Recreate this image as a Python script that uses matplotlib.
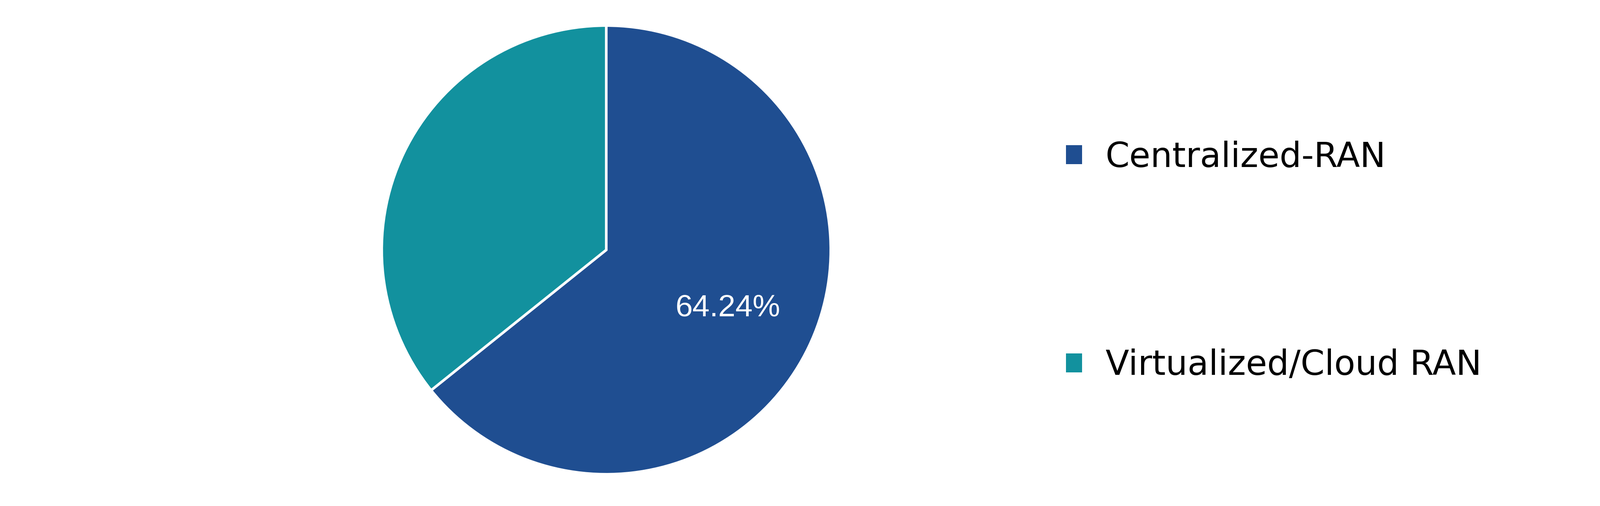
import matplotlib
matplotlib.use("Agg")
import matplotlib.pyplot as plt

# data
labels = ["Centralized-RAN", "Virtualized/Cloud RAN"]
shares = [64.24, 35.76]
colors = ["#1F4E91", "#12919E"]

W, H = 3877, 1227
fig = plt.figure(figsize=(W / 100, H / 100), dpi=100)

# pie axes: center ~(1469, 606) px, radius ~544 px
r = 544
cx, cy = 1469, 606
ax = fig.add_axes([(cx - r) / W, (H - cy - r) / H, 2 * r / W, 2 * r / H])

def pct(p):
    # only the big slice is labelled in the original
    return "%.2f%%" % p if p > 50 else ""

wedges, texts, autotexts = ax.pie(
    shares, colors=colors, startangle=90, counterclock=False,
    autopct=pct, pctdistance=0.6,
    wedgeprops=dict(edgecolor="white", linewidth=4.5),
    textprops=dict(color="white", fontsize=54, family="Liberation Sans"),
)
ax.set_xlim(-1, 1)
ax.set_ylim(-1, 1)
ax.set_aspect("equal")

leg = fig.legend(
    wedges, labels, loc="upper left",
    bbox_to_anchor=(2583 / W, (H - 341) / H),
    frameon=False, borderpad=0, borderaxespad=0,
    handlelength=0.47, handleheight=0.47, handletextpad=0.68,
    labelspacing=5.08,
    prop=dict(family="DejaVu Sans", size=60),
)
for h in leg.legend_handles:
    h.set_linewidth(0)

fig.savefig("out.png", dpi=100, facecolor="white")
